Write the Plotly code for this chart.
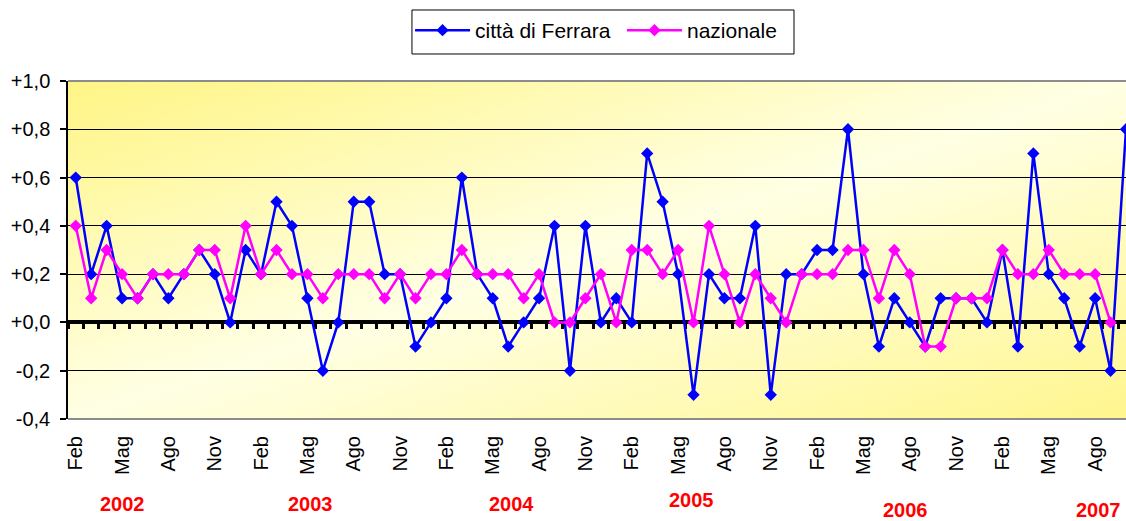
import base64
import plotly.graph_objects as go

# ---------------- data ----------------
# monthly series, Feb 2002 .. Oct 2007 (index 0 = Feb 2002)
ferrara = [0.6, 0.2, 0.4, 0.1, 0.1, 0.2, 0.1, 0.2, 0.3, 0.2, 0.0, 0.3,
           0.2, 0.5, 0.4, 0.1, -0.2, 0.0, 0.5, 0.5, 0.2, 0.2, -0.1, 0.0,
           0.1, 0.6, 0.2, 0.1, -0.1, 0.0, 0.1, 0.4, -0.2, 0.4, 0.0, 0.1,
           0.0, 0.7, 0.5, 0.2, -0.3, 0.2, 0.1, 0.1, 0.4, -0.3, 0.2, 0.2,
           0.3, 0.3, 0.8, 0.2, -0.1, 0.1, 0.0, -0.1, 0.1, 0.1, 0.1, 0.0,
           0.3, -0.1, 0.7, 0.2, 0.1, -0.1, 0.1, -0.2, 0.8]
nazionale = [0.4, 0.1, 0.3, 0.2, 0.1, 0.2, 0.2, 0.2, 0.3, 0.3, 0.1, 0.4,
             0.2, 0.3, 0.2, 0.2, 0.1, 0.2, 0.2, 0.2, 0.1, 0.2, 0.1, 0.2,
             0.2, 0.3, 0.2, 0.2, 0.2, 0.1, 0.2, 0.0, 0.0, 0.1, 0.2, 0.0,
             0.3, 0.3, 0.2, 0.3, 0.0, 0.4, 0.2, 0.0, 0.2, 0.1, 0.0, 0.2,
             0.2, 0.2, 0.3, 0.3, 0.1, 0.3, 0.2, -0.1, -0.1, 0.1, 0.1, 0.1,
             0.3, 0.2, 0.2, 0.3, 0.2, 0.2, 0.2, 0.0, None]
series_names = ["città di Ferrara", "nazionale"]
month_labels = ["Feb", "Mag", "Ago", "Nov"] * 5 + ["Feb", "Mag", "Ago"]
label_step = 3
year_labels = ["2002", "2003", "2004", "2005", "2006", "2007"]
y_tickvals = [1.0, 0.8, 0.6, 0.4, 0.2, 0.0, -0.2, -0.4]
y_ticktext = ["+1,0", "+0,8", "+0,6", "+0,4", "+0,2", "+0,0", "-0,2", "-0,4"]

# ---------------- figure ----------------
n = len(ferrara)
xs = list(range(n))
FONT = "Liberation Sans, Arial, sans-serif"
XR = [-0.5, n - 1]
YR = [-0.4, 1.0]

fig = go.Figure()
fig.add_trace(go.Scatter(
    x=xs, y=ferrara, name=series_names[0], mode="lines+markers",
    line=dict(color="#0000FF", width=2.5),
    marker=dict(symbol="diamond", size=9.5, color="#0000FF"),
    cliponaxis=False, legend="legend"))
fig.add_trace(go.Scatter(
    x=xs, y=nazionale, name=series_names[1], mode="lines+markers",
    line=dict(color="#FF00FF", width=2.5),
    marker=dict(symbol="diamond", size=9.5, color="#FF00FF"),
    cliponaxis=False, connectgaps=False, legend="legend2"))
# helper (invisible) so the label axis is rendered
fig.add_trace(go.Scatter(x=[xs[0]], y=[ferrara[0]], xaxis="x2", mode="markers",
                         marker=dict(opacity=0), showlegend=False, hoverinfo="skip"))

svg = ('<svg xmlns="http://www.w3.org/2000/svg" width="200" height="100" '
       'viewBox="0 0 200 100" preserveAspectRatio="none"><defs>'
       '<linearGradient id="g" x1="0" y1="0" x2="1" y2="1">'
       '<stop offset="0" stop-color="#FFF585"/>'
       '<stop offset="0.5" stop-color="#FFFFE4"/>'
       '<stop offset="1" stop-color="#FFF68E"/>'
       '</linearGradient></defs>'
       '<rect width="200" height="100" fill="url(#g)"/></svg>')
src = "data:image/svg+xml;base64," + base64.b64encode(svg.encode()).decode()

zero_pos = (0 - YR[0]) / (YR[1] - YR[0])
label_vals = [i * label_step for i in range(len(month_labels))]

leg_common = dict(orientation="h", y=1.21, xanchor="left", yanchor="top",
                  bgcolor="rgba(0,0,0,0)", borderwidth=0,
                  font=dict(size=21), itemwidth=55, itemclick=False)

fig.update_layout(
    width=1126, height=521, autosize=False,
    margin=dict(l=68, r=0, t=81, b=102),
    paper_bgcolor="white", plot_bgcolor="rgba(0,0,0,0)",
    font=dict(family=FONT, size=20, color="black"),
    showlegend=True,
    legend=dict(x=0.3233, **leg_common),
    legend2=dict(x=0.5236, **leg_common),
    images=[dict(source=src, xref="paper", yref="paper", x=0, y=1, sizex=1, sizey=1,
                 sizing="stretch", layer="below", xanchor="left", yanchor="top")],
    xaxis=dict(range=XR, anchor="free", position=zero_pos,
               showgrid=False, zeroline=False,
               showline=True, linecolor="black", linewidth=4,
               ticks="outside", ticklen=5, tickwidth=3, tickcolor="black",
               tickvals=[k - 0.5 for k in range(n + 1)],
               showticklabels=False, layer="below traces"),
    xaxis2=dict(range=XR, overlaying="x", anchor="y", side="bottom",
                showgrid=False, zeroline=False, showline=False, ticks="",
                tickvals=label_vals, ticktext=month_labels, tickangle=-90,
                tickfont=dict(size=20, family=FONT), ticklabelstandoff=12),
    yaxis=dict(range=YR, anchor="x", tickvals=y_tickvals, ticktext=y_ticktext,
               showgrid=True, gridcolor="black", gridwidth=1, zeroline=False,
               showline=True, linecolor="black", linewidth=1.5,
               ticks="outside", ticklen=6, tickwidth=1.5, tickcolor="black",
               tickfont=dict(size=20, family=FONT), ticklabelstandoff=6),
)

# legend frame
fig.add_shape(type="rect", xref="paper", yref="paper", x0=0.3251, x1=0.6862,
              y0=1.0799, y1=1.2101, line=dict(color="black", width=1),
              fillcolor="white", layer="below")

# plot-area frame (top & bottom, grey)
for yy in (0, 1):
    fig.add_shape(type="line", xref="paper", yref="paper", x0=0, x1=1, y0=yy, y1=yy,
                  line=dict(color="#8C8C8C", width=2), layer="above")

# year labels under the month labels
year_pos = [3.05, 15.2, 28.2, 39.9, 53.7, 66.2]
year_y = [-0.2515, -0.2515, -0.2515, -0.2396, -0.2706, -0.2706]
for lab, px, py in zip(year_labels, year_pos, year_y):
    fig.add_annotation(text=lab, x=px, y=py, xref="x", yref="paper",
                       showarrow=False, xanchor="center", yanchor="middle",
                       font=dict(family=FONT, size=20, color="#FF0000", weight="bold"))

fig.write_html("out.html", config={"displayModeBar": False},
               post_script="document.body.style.margin='0';document.body.style.overflow='hidden';")
